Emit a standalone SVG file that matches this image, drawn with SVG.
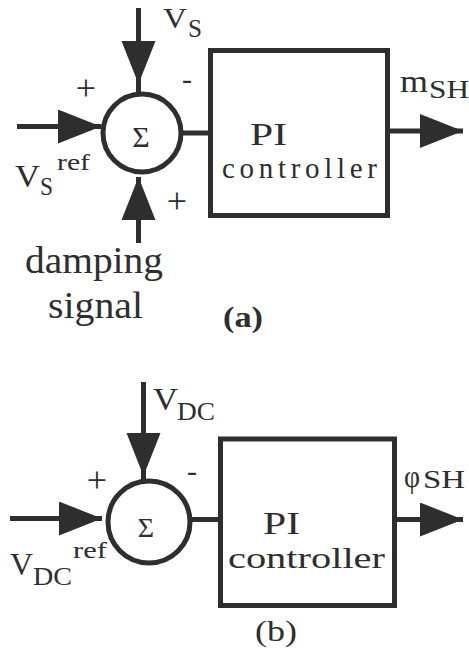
<svg xmlns="http://www.w3.org/2000/svg" width="469" height="653" viewBox="0 0 469 653" font-family="'Liberation Serif', Tinos, 'Times New Roman', serif">
  <style>
    .ln { stroke: #2e2e2e; stroke-width: 5; fill: none; }
    .blk { stroke: #2e2e2e; stroke-width: 5; fill: #ffffff; }
    .t { font-family: 'Liberation Serif', Tinos, 'Times New Roman', serif; fill: #2e2e2e; }
    .big { font-size: 32px; }
    .sub { font-size: 25px; }
    .sgn { font-size: 36px; text-anchor: middle; }
  </style>
  <defs>
    <marker id="ah" markerUnits="userSpaceOnUse" markerWidth="44" markerHeight="36" refX="43" refY="17" orient="auto">
      <path d="M0,0 L43,17 L0,34 Z" fill="#2e2e2e"/>
    </marker>
  </defs>
  <rect width="469" height="653" fill="#ffffff"/>

  <g id="connectors">
    <!-- (a) -->
    <path class="ln" d="M138.5,8 V84" marker-end="url(#ah)"/>
    <path class="ln" d="M138.5,80 V93"/>
    <path class="ln" d="M17,126.5 H101" marker-end="url(#ah)"/>
    <path class="ln" d="M138.5,243 V177" marker-end="url(#ah)"/>
    <path class="ln" d="M181,133 H211"/>
    <path class="ln" d="M388,131 H463" marker-end="url(#ah)"/>
    <!-- (b) -->
    <path class="ln" d="M143.5,382 V476" marker-end="url(#ah)"/>
    <path class="ln" d="M143.5,470 V481"/>
    <path class="ln" d="M10,518.5 H102" marker-end="url(#ah)"/>
    <path class="ln" d="M190,519.5 H221"/>
    <path class="ln" d="M394,519.5 H463" marker-end="url(#ah)"/>
  </g>

  <!-- Diagram (a) -->
  <g id="sum-a">
    <circle class="blk" cx="142" cy="133" r="39"/>
    <text class="t" x="141" y="147" font-size="30" text-anchor="middle">Σ</text>
  </g>
  <g id="pi-a">
    <rect class="blk" x="210.5" y="50.5" width="177" height="165"/>
    <text class="t" x="250" y="145" font-size="31" textLength="37" lengthAdjust="spacingAndGlyphs">PI</text>
    <text class="t" x="222" y="178" font-size="29" textLength="155" lengthAdjust="spacing">controller</text>
  </g>
  <g id="label-vs-a">
    <text class="t" x="163" y="28" font-size="30" textLength="24" lengthAdjust="spacingAndGlyphs">V</text>
    <text class="t sub" x="188" y="37" textLength="14" lengthAdjust="spacingAndGlyphs">S</text>
  </g>
  <g id="label-vsref-a">
    <text class="t big" x="15" y="187" textLength="25" lengthAdjust="spacingAndGlyphs">V</text>
    <text class="t sub" x="40" y="195" textLength="13" lengthAdjust="spacingAndGlyphs">S</text>
    <text class="t" x="57" y="170" font-size="24" textLength="33" lengthAdjust="spacingAndGlyphs">ref</text>
  </g>
  <g id="signs-a">
    <text class="t sgn" x="86" y="100">+</text>
    <text class="t" x="187" y="89" font-size="30" text-anchor="middle">-</text>
    <text class="t sgn" x="177" y="213">+</text>
  </g>
  <g id="label-damping-a">
    <text class="t" x="25" y="273" font-size="37" textLength="138" lengthAdjust="spacingAndGlyphs">damping</text>
    <text class="t" x="48" y="318" font-size="37" textLength="95" lengthAdjust="spacingAndGlyphs">signal</text>
  </g>
  <g id="label-msh-a">
    <text class="t big" x="400" y="92" textLength="28" lengthAdjust="spacingAndGlyphs">m</text>
    <text class="t sub" x="429" y="98" textLength="40" lengthAdjust="spacingAndGlyphs">SH</text>
  </g>
  <g id="caption-a">
    <text class="t" x="223" y="327" font-size="30" font-weight="bold" textLength="40" lengthAdjust="spacingAndGlyphs">(a)</text>
  </g>

  <!-- Diagram (b) -->
  <g id="sum-b">
    <circle class="blk" cx="149" cy="522" r="41"/>
    <text class="t" x="146" y="537" font-size="28" text-anchor="middle">Σ</text>
  </g>
  <g id="pi-b">
    <rect class="blk" x="220.5" y="439" width="174" height="166.5"/>
    <text class="t" x="263" y="534" font-size="31" textLength="37" lengthAdjust="spacingAndGlyphs">PI</text>
    <text class="t" x="228" y="568" font-size="30" textLength="157" lengthAdjust="spacingAndGlyphs">controller</text>
  </g>
  <g id="label-vdc-b">
    <text class="t big" x="153" y="410" textLength="25" lengthAdjust="spacingAndGlyphs">V</text>
    <text class="t sub" x="177" y="420" font-size="26" textLength="38" lengthAdjust="spacingAndGlyphs">DC</text>
  </g>
  <g id="label-vdcref-b">
    <text class="t big" x="10" y="575" textLength="23" lengthAdjust="spacingAndGlyphs">V</text>
    <text class="t sub" x="33" y="585" textLength="39" lengthAdjust="spacingAndGlyphs">DC</text>
    <text class="t" x="73" y="558" font-size="24" textLength="34" lengthAdjust="spacingAndGlyphs">ref</text>
  </g>
  <g id="signs-b">
    <text class="t sgn" x="97" y="492">+</text>
    <text class="t" x="192" y="481" font-size="30" text-anchor="middle">-</text>
  </g>
  <g id="label-phish-b">
    <text class="t big" x="404" y="487" textLength="16" lengthAdjust="spacingAndGlyphs">φ</text>
    <text class="t sub" x="423" y="488" textLength="42" lengthAdjust="spacingAndGlyphs">SH</text>
  </g>
  <g id="caption-b">
    <text class="t" x="255" y="641" font-size="30" textLength="42" lengthAdjust="spacingAndGlyphs">(b)</text>
  </g>
</svg>
